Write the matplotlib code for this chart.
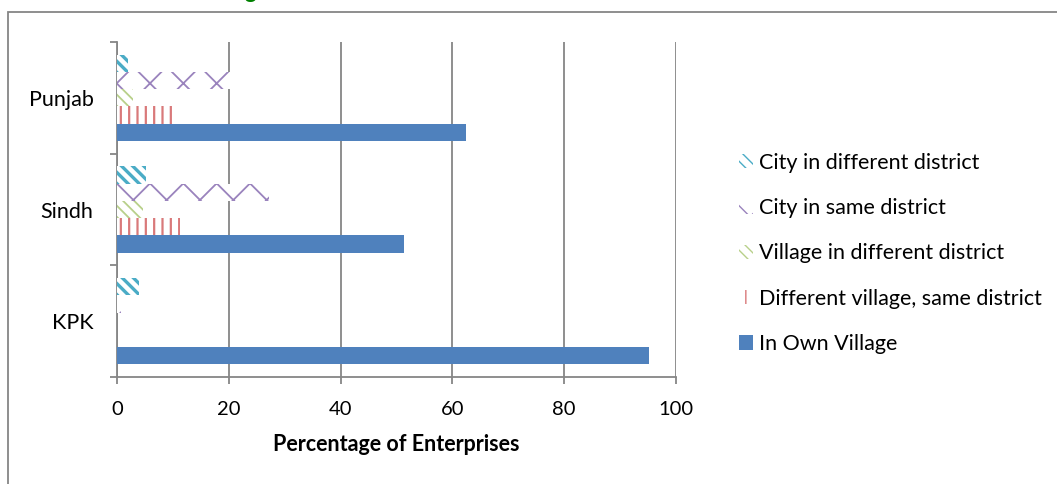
import matplotlib
matplotlib.use("Agg")
import matplotlib.pyplot as plt
from matplotlib.patches import Rectangle, Patch
import numpy as np

# Regions (bottom to top on the axis)
regions = ["KPK", "Sindh", "Punjab"]

# Share of enterprises by selling location (%), in region order above
city_diff_district = [3.9, 5.2, 2.0]
city_same_district = [0.8, 27.2, 21.5]
village_diff_district = [0.0, 4.6, 2.8]
diff_village_same_district = [0.0, 11.2, 9.8]
own_village = [95.2, 51.4, 62.4]

x_ticks = [0, 20, 40, 60, 80, 100]

plt.rcParams['font.family'] = ['Lato', 'DejaVu Sans']

GRAY = "#868686"
series = [
    # label, values, face, hatch colour, hatch, hatch width
    ("In Own Village", own_village, "#4F81BD", None, None, 0),
    ("Different village, same district", diff_village_same_district, "white", "#D9797A", "||", 1.6),
    ("Village in different district", village_diff_district, "white", "#B8D08A", "\\\\\\", 1.3),
    ("City in same district", city_same_district, "white", "#9A83BD", "x", 1.3),
    ("City in different district", city_diff_district, "white", "#4BACC6", "\\\\\\", 2.4),
]

W, H = 1057, 484
fig = plt.figure(figsize=(W / 100, H / 100), dpi=100)
ax = fig.add_axes([117 / W, 1 - 377 / H, 559 / W, 335 / H])

bar_h = 0.155
ypos = np.arange(len(regions))
handles = []
for i, (label, vals, face, hc, hatch, hlw) in enumerate(series):
    offs = (i - 2) * bar_h
    if hatch is None:
        ax.barh(ypos + offs, vals, height=bar_h, color=face, edgecolor="none", zorder=3)
        handles.append(Patch(facecolor=face, edgecolor="none", label=label))
    else:
        with plt.rc_context({'hatch.linewidth': hlw, 'hatch.color': hc}):
            ax.barh(ypos + offs, vals, height=bar_h, color=face,
                    edgecolor=hc, linewidth=0, hatch=hatch, zorder=3)
            handles.append(Patch(facecolor=face, edgecolor=hc, linewidth=0,
                                 hatch=hatch, label=label))

ax.set_xlim(0, 100)
ax.set_ylim(-0.5, len(regions) - 0.5)
ax.set_xticks(x_ticks)
ax.set_xticklabels([str(t) for t in x_ticks], fontsize=14.5)
ax.set_yticks(ypos)
ax.set_yticklabels(regions, fontsize=15.5)
ax.set_yticks(np.arange(-0.5, len(regions)), minor=True)

ax.tick_params(axis='y', which='major', length=0, pad=17)
ax.tick_params(axis='y', which='minor', length=5, width=1.3, color=GRAY, direction='out')
ax.tick_params(axis='x', which='major', length=5, width=1.3, color=GRAY, direction='out', pad=12)

ax.grid(axis='x', color=GRAY, linewidth=1.3, zorder=1)
ax.set_axisbelow(True)
for side in ("top", "right"):
    ax.spines[side].set_visible(False)
for side in ("left", "bottom"):
    ax.spines[side].set_color(GRAY)
    ax.spines[side].set_linewidth(1.3)

ax.set_xlabel("Percentage of Enterprises", fontsize=15.5, fontweight='bold', labelpad=12)

# Legend, top entry first
fig.legend(handles=handles[::-1], loc='upper left',
           bbox_to_anchor=(730 / W, 1 - 144 / H), frameon=False,
           fontsize=15.5, handlelength=0.65, handleheight=0.65,
           handletextpad=0.3, labelspacing=1.18, borderaxespad=0)

# Outer chart frame
fig.patches.append(Rectangle((8 / W, -0.2), 1.2, 1 - 12 / H + 0.2,
                             transform=fig.transFigure, fill=False,
                             edgecolor=GRAY, linewidth=1.3, zorder=0))

# Title (sits above the frame)
fig.text(250 / W, 1 + 2 / H, "g", color="#008000", fontsize=16,
         fontweight='bold', ha='center', va='baseline')

fig.savefig("out.png", dpi=100)
